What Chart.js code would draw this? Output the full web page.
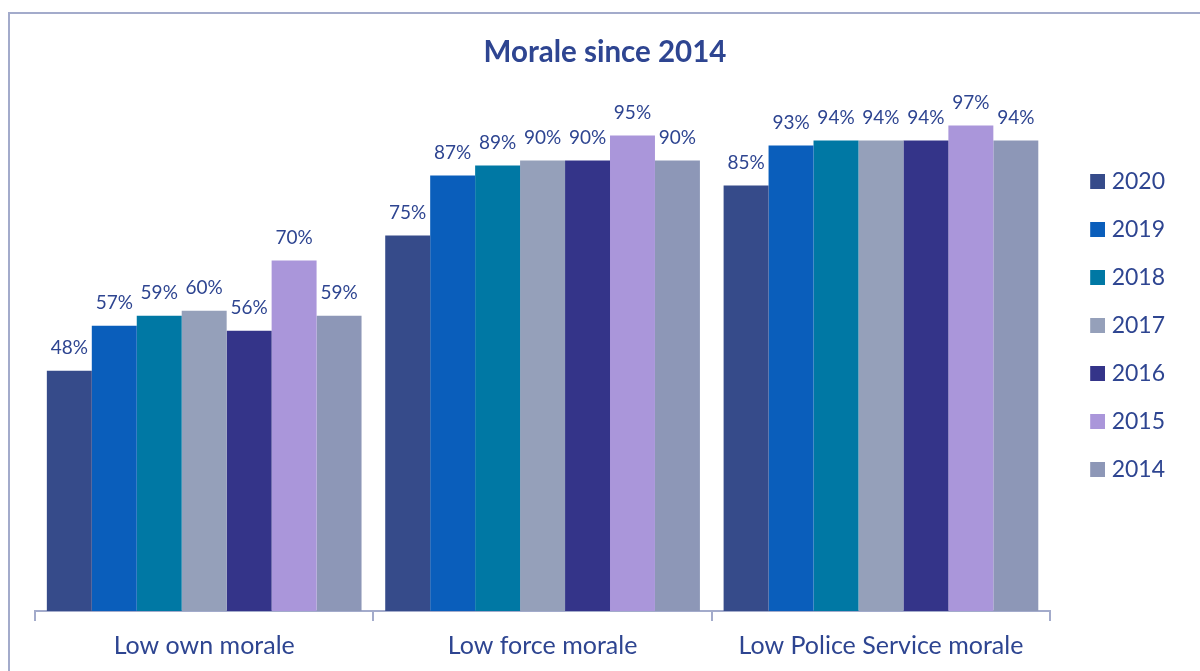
<!DOCTYPE html>
<html>
<head>
<meta charset="utf-8">
<script src="https://cdn.jsdelivr.net/npm/chart.js@4/dist/chart.umd.min.js"></script>
<style>
html,body{margin:0;padding:0;background:#fff;width:1200px;height:671px;overflow:hidden;}
#frame{position:absolute;left:8px;top:12px;width:1300px;height:800px;border:2px solid #A3ABCB;box-sizing:border-box;}
#wrap{position:absolute;left:0;top:0;width:1200px;height:671px;}
</style>
</head>
<body>
<div id="frame"></div>
<div id="wrap"><canvas id="c" width="1200" height="671"></canvas></div>
<script>
const categories = ["Low own morale", "Low force morale", "Low Police Service morale"];
const years = ["2020", "2019", "2018", "2017", "2016", "2015", "2014"];
const v2020 = [48, 75, 85];
const v2019 = [57, 87, 93];
const v2018 = [59, 89, 94];
const v2017 = [60, 90, 94];
const v2016 = [56, 90, 94];
const v2015 = [70, 95, 97];
const v2014 = [59, 90, 94];
const colors = ["#364B8A", "#0A5EBB", "#0078A4", "#95A0BA", "#343489", "#AA96DA", "#8D97B7"];
const series = [v2020, v2019, v2018, v2017, v2016, v2015, v2014];

const textColor = "#2E4591";
const fontFam = "Lato, 'Open Sans', sans-serif";

// legend swatch images: square on the right part of a wider transparent image
function makeSwatch(color) {
  const c = document.createElement('canvas');
  c.width = 35; c.height = 15;
  const g = c.getContext('2d');
  g.fillStyle = color;
  g.fillRect(20, 0, 15, 15);
  return c;
}
const swatches = colors.map(makeSwatch);

const labelPlugin = {
  id: 'valLabels',
  afterDatasetsDraw(chart) {
    const ctx = chart.ctx;
    ctx.save();
    ctx.font = "19px " + fontFam;
    ctx.fillStyle = textColor;
    ctx.textAlign = 'center';
    ctx.textBaseline = 'middle';
    chart.data.datasets.forEach((ds, i) => {
      const meta = chart.getDatasetMeta(i);
      meta.data.forEach((el, j) => {
        ctx.fillText(ds.data[j] + '%', el.x, el.y - 23);
      });
    });
    ctx.restore();
  }
};

new Chart(document.getElementById('c'), {
  type: 'bar',
  data: {
    labels: categories,
    datasets: years.map((y, i) => ({
      label: y,
      data: series[i],
      backgroundColor: colors[i],
      borderWidth: 0,
      barPercentage: 1.0,
      categoryPercentage: 0.93
    }))
  },
  options: {
    responsive: false,
    animation: false,
    layout: { padding: { left: 35, right: 25, top: 20, bottom: 0 } },
    scales: {
      x: {
        offset: true,
        grid: { display: true, drawOnChartArea: false, offset: true, tickLength: 10, color: '#A3ABCB', lineWidth: 2 },
        border: { display: true, color: '#A3ABCB', width: 2 },
        ticks: { color: textColor, font: { size: 25, family: fontFam }, padding: 10 }
      },
      y: {
        display: false,
        min: 0,
        max: 100
      }
    },
    plugins: {
      title: {
        display: true,
        text: 'Morale since 2014',
        color: textColor,
        font: { size: 29.5, weight: 'bold', family: fontFam },
        padding: { top: 15, bottom: 40 }
      },
      legend: {
        position: 'right',
        align: 'start',
        title: {
          display: true,
          text: '',
          font: { size: 10 },
          padding: { top: 113, bottom: 0 }
        },
        labels: {
          color: textColor,
          font: { size: 23, family: fontFam },
          usePointStyle: true,
          pointStyleWidth: 25,
          boxHeight: 15,
          padding: 25,
          generateLabels(chart) {
            const items = Chart.defaults.plugins.legend.labels.generateLabels(chart);
            items.forEach((it, i) => { it.pointStyle = swatches[i]; });
            return items;
          }
        }
      },
      tooltip: { enabled: false }
    }
  },
  plugins: [labelPlugin]
});
</script>
</body>
</html>
